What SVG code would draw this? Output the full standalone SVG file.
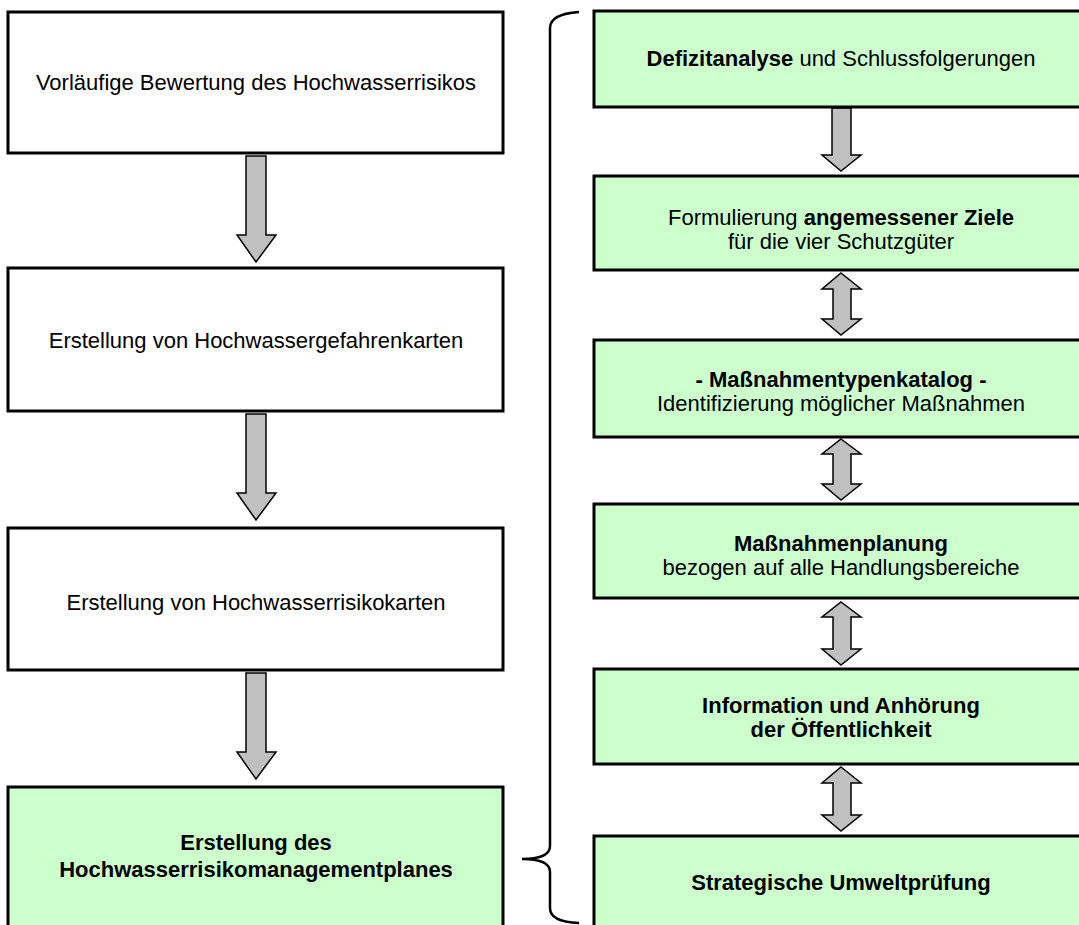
<svg xmlns="http://www.w3.org/2000/svg" width="1079" height="925" viewBox="0 0 1079 925">
<style>
.box{stroke:#000;stroke-width:3}
.w{fill:#ffffff}
.g{fill:#ccffcc}
.arr{fill:#c0c0c0;stroke:#000;stroke-width:1.5;stroke-linejoin:miter}
text{font-family:"Liberation Sans",Arial,sans-serif;font-size:22px;fill:#000;text-anchor:middle}
.b{font-weight:bold}
</style>
<rect width="1079" height="925" fill="#ffffff"/>
<g id="connectors">
<path class="arr" d="M246,156 H266 V235 H276 L256,262 L237,235 H246 Z"/>
<path class="arr" d="M246,414 H266 V493 H276 L256,520 L237,493 H246 Z"/>
<path class="arr" d="M246,673 H266 V752 H276 L256,779 L237,752 H246 Z"/>
<path class="arr" d="M832,108 H851 V155 H861 L841,171 L822,155 H832 Z"/>
<path class="arr" d="M841,273 L861,289 H851 V319 H861 L841,335 L822,319 H833 V289 H822 Z"/>
<path class="arr" d="M841,439 L861,454 H851 V484 H861 L841,500 L822,484 H833 V454 H822 Z"/>
<path class="arr" d="M841,602 L861,617 H851 V649 H861 L841,665 L822,649 H833 V617 H822 Z"/>
<path class="arr" d="M841,767 L861,783 H851 V815 H861 L841,831 L822,815 H833 V783 H822 Z"/>
<path d="M579,12 Q550,14 550,28 L550,846 Q550,859 522,859 Q550,859 550,872 L550,908 Q550,922 579,923" fill="none" stroke="#000" stroke-width="2.5"/>
</g>
<g id="n1"><rect class="box w" x="8" y="12" width="495" height="141"/><text x="256" y="90">Vorläufige Bewertung des Hochwasserrisikos</text></g>
<g id="n2"><rect class="box w" x="8" y="268" width="495" height="143"/><text x="256" y="348">Erstellung von Hochwassergefahrenkarten</text></g>
<g id="n3"><rect class="box w" x="8" y="528" width="495" height="142"/><text x="256" y="610">Erstellung von Hochwasserrisikokarten</text></g>
<g id="n4"><rect class="box g" x="8" y="787" width="495" height="150"/><text class="b" x="256" y="850">Erstellung des</text><text class="b" x="256" y="877">Hochwasserrisikomanagementplanes</text></g>
<g id="r1"><rect class="box g" x="594" y="11" width="494" height="96"/><text x="841" y="66"><tspan class="b">Defizitanalyse</tspan> und Schlussfolgerungen</text></g>
<g id="r2"><rect class="box g" x="594" y="176" width="494" height="94"/><text x="841" y="225">Formulierung <tspan class="b">angemessener Ziele</tspan></text><text x="841" y="249">für die vier Schutzgüter</text></g>
<g id="r3"><rect class="box g" x="594" y="340" width="494" height="97"/><text class="b" x="841" y="387">- Maßnahmentypenkatalog -</text><text x="841" y="411">Identifizierung möglicher Maßnahmen</text></g>
<g id="r4"><rect class="box g" x="594" y="504" width="494" height="94"/><text class="b" x="841" y="551">Maßnahmenplanung</text><text x="841" y="575">bezogen auf alle Handlungsbereiche</text></g>
<g id="r5"><rect class="box g" x="594" y="669" width="494" height="95"/><text class="b" x="841" y="713">Information und Anhörung</text><text class="b" x="841" y="737">der Öffentlichkeit</text></g>
<g id="r6"><rect class="box g" x="594" y="836" width="494" height="100"/><text class="b" x="841" y="890">Strategische Umweltprüfung</text></g>
</svg>
